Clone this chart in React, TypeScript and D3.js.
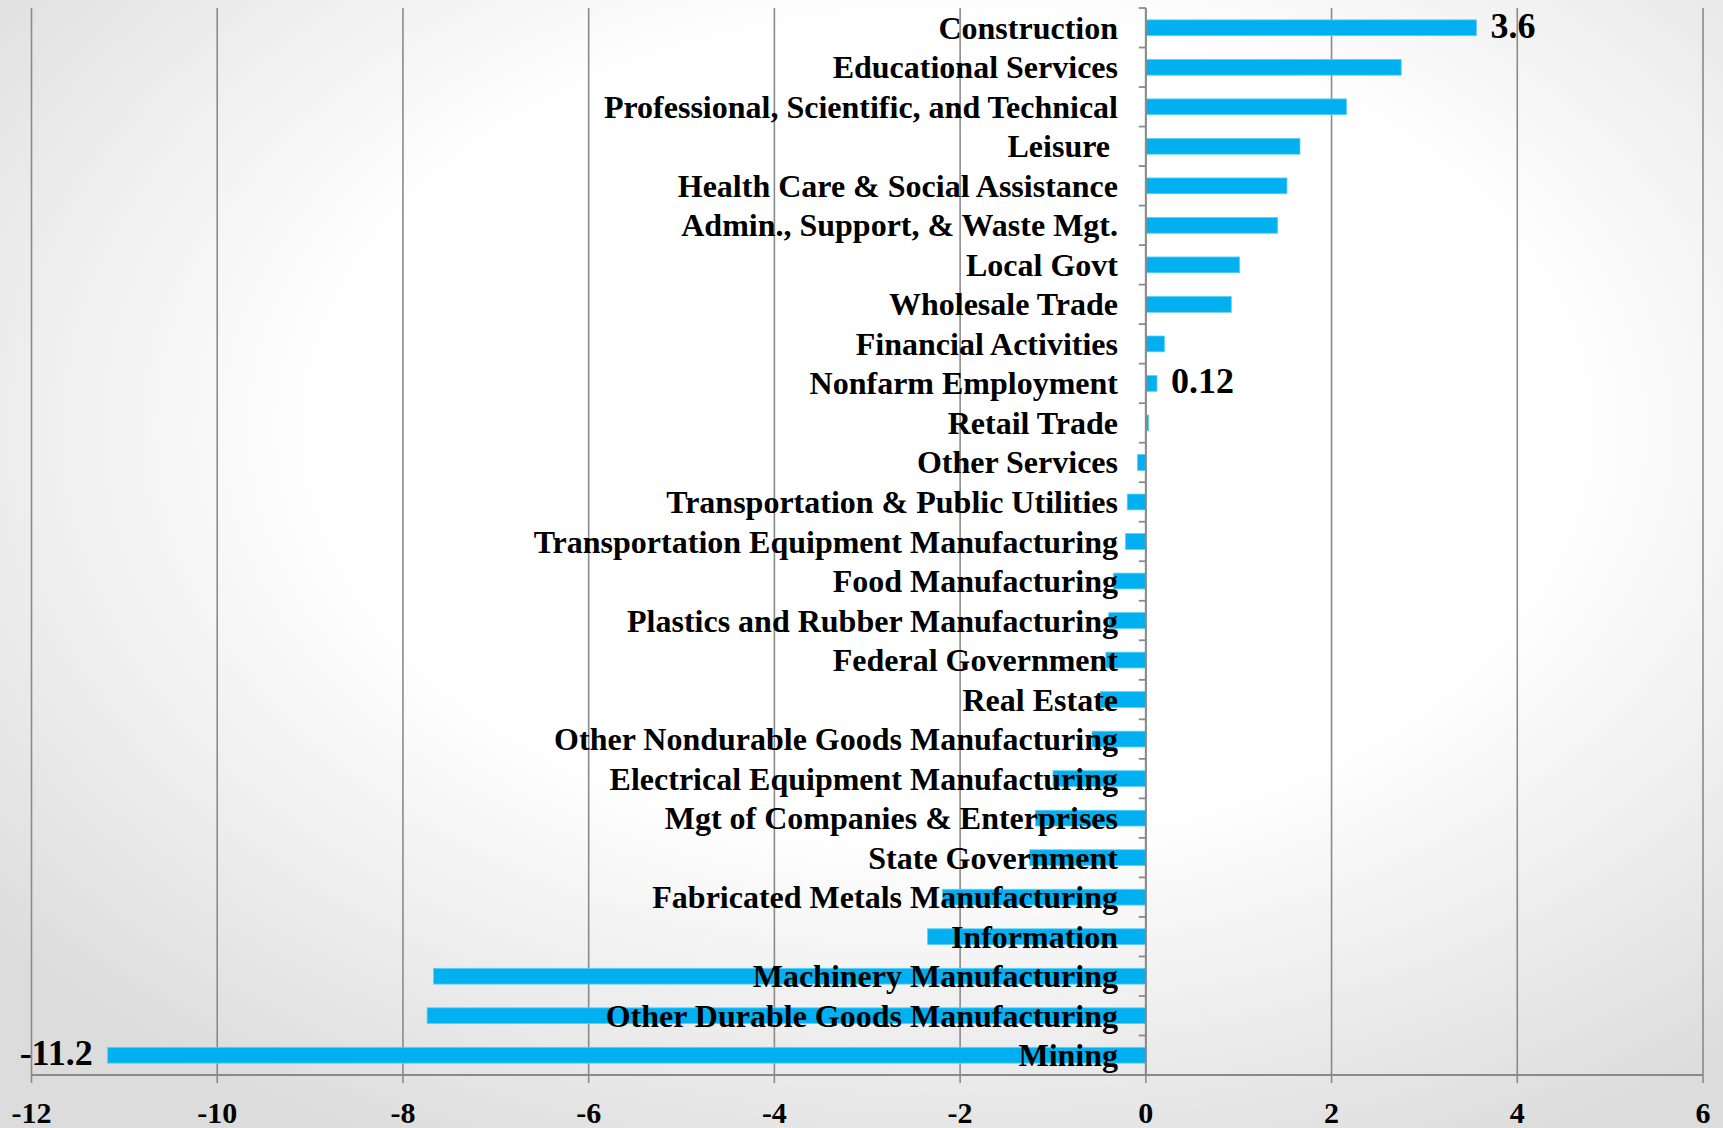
import React from "react";
import * as d3 from "d3";

const categories = [
  "Construction",
  "Educational Services",
  "Professional, Scientific, and Technical",
  "Leisure ",
  "Health Care & Social Assistance",
  "Admin., Support, & Waste Mgt.",
  "Local Govt",
  "Wholesale Trade",
  "Financial Activities",
  "Nonfarm Employment",
  "Retail Trade",
  "Other Services",
  "Transportation & Public Utilities",
  "Transportation Equipment Manufacturing",
  "Food Manufacturing",
  "Plastics and Rubber Manufacturing",
  "Federal Government",
  "Real Estate",
  "Other Nondurable Goods Manufacturing",
  "Electrical Equipment Manufacturing",
  "Mgt of Companies & Enterprises",
  "State Government",
  "Fabricated Metals Manufacturing",
  "Information",
  "Machinery Manufacturing",
  "Other Durable Goods Manufacturing",
  "Mining",
];

const values = [
  3.56, 2.75, 2.16, 1.66, 1.52, 1.42, 1.01, 0.92, 0.2, 0.12, 0.03, -0.09,
  -0.2, -0.22, -0.35, -0.4, -0.43, -0.49, -0.58, -1.0, -1.19, -1.25, -2.19,
  -2.35, -7.67, -7.74, -11.18,
];

const xTicks = [-12, -10, -8, -6, -4, -2, 0, 2, 4, 6];

const dataLabels = [
  { category: "Construction", text: "3.6" },
  { category: "Nonfarm Employment", text: "0.12" },
  { category: "Mining", text: "-11.2" },
];

const W = 1723;
const H = 1128;
const left = 31.5;
const right = 1703;
const top = 8;
const bottom = 1075;

export default function App() {
  const x = d3.scaleLinear().domain([-12, 6]).range([left, right]);
  const y = d3
    .scaleBand<string>()
    .domain(categories)
    .range([top, bottom])
    .paddingInner(0.6)
    .paddingOuter(0.3);
  const boundaries = d3
    .range(categories.length + 1)
    .map((i) => top + i * ((bottom - top) / categories.length));
  const x0 = x(0);
  const font = "'Liberation Serif', 'Times New Roman', serif";
  const gridColor = "#8a8a8a";

  return (
    <svg
      width={W}
      height={H}
      style={{ position: "absolute", left: 0, top: 0, display: "block" }}
    >
      <defs>
        <radialGradient id="bg" cx="55%" cy="38%" r="72%">
          <stop offset="0%" stopColor="#ffffff" />
          <stop offset="50%" stopColor="#ffffff" />
          <stop offset="100%" stopColor="#dcdcdc" />
        </radialGradient>
      </defs>
      <rect x={0} y={0} width={W} height={H} fill="url(#bg)" />

      {xTicks.map((t) => (
        <line
          key={"g" + t}
          x1={x(t)}
          x2={x(t)}
          y1={top}
          y2={bottom + 8}
          stroke={gridColor}
          strokeWidth={1.6}
        />
      ))}

      <line x1={left} x2={right} y1={bottom} y2={bottom} stroke={gridColor} strokeWidth={2} />

      {boundaries.map((b, i) => (
        <line
          key={"yt" + i}
          x1={x0 - 7}
          x2={x0}
          y1={b}
          y2={b}
          stroke={gridColor}
          strokeWidth={1.8}
        />
      ))}

      {categories.map((c, i) => {
        const v = values[i];
        const bx = Math.min(x(v), x0);
        const bw = Math.abs(x(v) - x0);
        return (
          <rect
            key={"b" + c}
            x={bx}
            y={y(c) as number}
            width={bw}
            height={y.bandwidth()}
            fill="#00b0f0"
            stroke="#5fd0f5"
            strokeWidth={0.8}
          />
        );
      })}

      <line x1={x0} x2={x0} y1={top} y2={bottom} stroke={gridColor} strokeWidth={2} />

      {categories.map((c) => (
        <text
          key={"l" + c}
          x={1118}
          y={(y(c) as number) + y.bandwidth() / 2 + 11}
          textAnchor="end"
          fontFamily={font}
          fontWeight="bold"
          fontSize={32}
          fill="#000"
          style={{ whiteSpace: "pre" }}
        >
          {c}
        </text>
      ))}

      {dataLabels.map((d) => {
        const i = categories.indexOf(d.category);
        const v = values[i];
        const cy = (y(d.category) as number) + y.bandwidth() / 2;
        const pos = v >= 0;
        return (
          <text
            key={"d" + d.category}
            x={pos ? x(v) + 14 : x(v) - 15}
            y={cy + 10}
            textAnchor={pos ? "start" : "end"}
            fontFamily={font}
            fontWeight="bold"
            fontSize={36}
            fill="#000"
          >
            {d.text}
          </text>
        );
      })}

      {xTicks.map((t) => (
        <text
          key={"xl" + t}
          x={x(t)}
          y={1123}
          textAnchor="middle"
          fontFamily={font}
          fontWeight="bold"
          fontSize={30}
          fill="#000"
        >
          {t}
        </text>
      ))}
    </svg>
  );
}
